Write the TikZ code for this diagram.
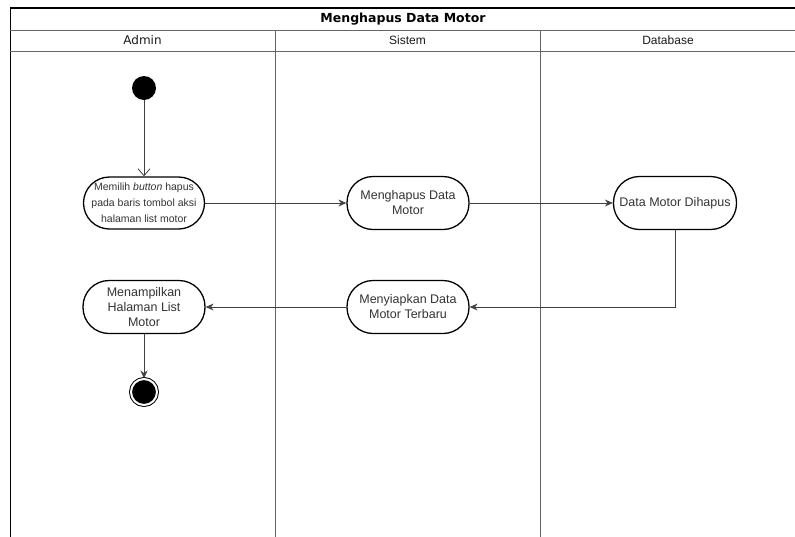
\documentclass[tikz,border=0pt]{standalone}
\usepackage{fontspec}
\setmainfont{Liberation Sans}
\newfontfamily\headfont{DejaVu Sans}
\usetikzlibrary{arrows.meta}
\begin{document}
\begin{tikzpicture}[x=1pt, y=-1pt,
  lane/.style = {draw=black!60, line width=0.8pt},
  activity/.style = {shape=rectangle, rounded corners=26pt,
    draw, line width=1.3pt, align=center, text=black!80,
    minimum width=122pt, minimum height=53pt, inner sep=1pt,
    font=\fontsize{12.5}{15}\selectfont},
  flow/.style = {draw=black!75, line width=0.8pt, -{Stealth[length=8pt,width=7pt]}},
  header/.style = {text=black!90, font=\fontsize{12}{14}\selectfont}]
  \useasboundingbox (0,0) rectangle (795,536);
  % swimlanes
  \draw[line width=1.3pt] (10,8) -- (800,8);
  \draw[line width=1pt] (10,8) -- (10,540);
  \draw[lane] (10,30) -- (800,30);
  \draw[lane] (10,51) -- (800,51);
  \draw[lane] (275,30) -- (275,540);
  \draw[lane] (540,30) -- (540,540);
  \node[font=\headfont\bfseries\fontsize{12.5}{14}\selectfont] (title) at (403,19) {Menghapus Data Motor};
  \node[header, font=\headfont\fontsize{12}{14}\selectfont] (admin) at (142.5,40.5) {Admin};
  \node[header] (sistem) at (407.5,40.5) {Sistem};
  \node[header] (database) at (668,40.5) {Database};
  % activities
  \node[circle, fill=black, minimum size=24pt, inner sep=0pt] (start) at (144,88) {};
  \node[activity, minimum width=121pt, minimum height=52pt,
    font=\fontsize{10.5}{16}\selectfont] (pilih) at (144,203)
    {Memilih \textit{button} hapus\\pada baris tombol aksi\\halaman list motor};
  \node[activity] (hapus) at (408,203) {Menghapus Data\\Motor};
  \node[activity, minimum width=123pt] (dihapus) at (675,203) {Data Motor Dihapus};
  \node[activity] (siapkan) at (408,307) {Menyiapkan Data\\Motor Terbaru};
  \node[activity] (tampil) at (144,307) {Menampilkan\\Halaman List\\Motor};
  \node[circle, fill=black, draw=black, line width=1pt, double=white,
    double distance=2pt, minimum size=26pt, inner sep=0pt] (end) at (144,392) {};
  % flows
  \draw[flow, -{Straight Barb[length=7pt,width=12pt]}] (start) -- (pilih);
  \draw[flow] (pilih) -- (hapus);
  \draw[flow] (hapus) -- (dihapus);
  \draw[flow] (dihapus.south) |- (siapkan.east);
  \draw[flow] (siapkan) -- (tampil);
  \draw[flow] (tampil) -- (end);
\end{tikzpicture}
\end{document}
